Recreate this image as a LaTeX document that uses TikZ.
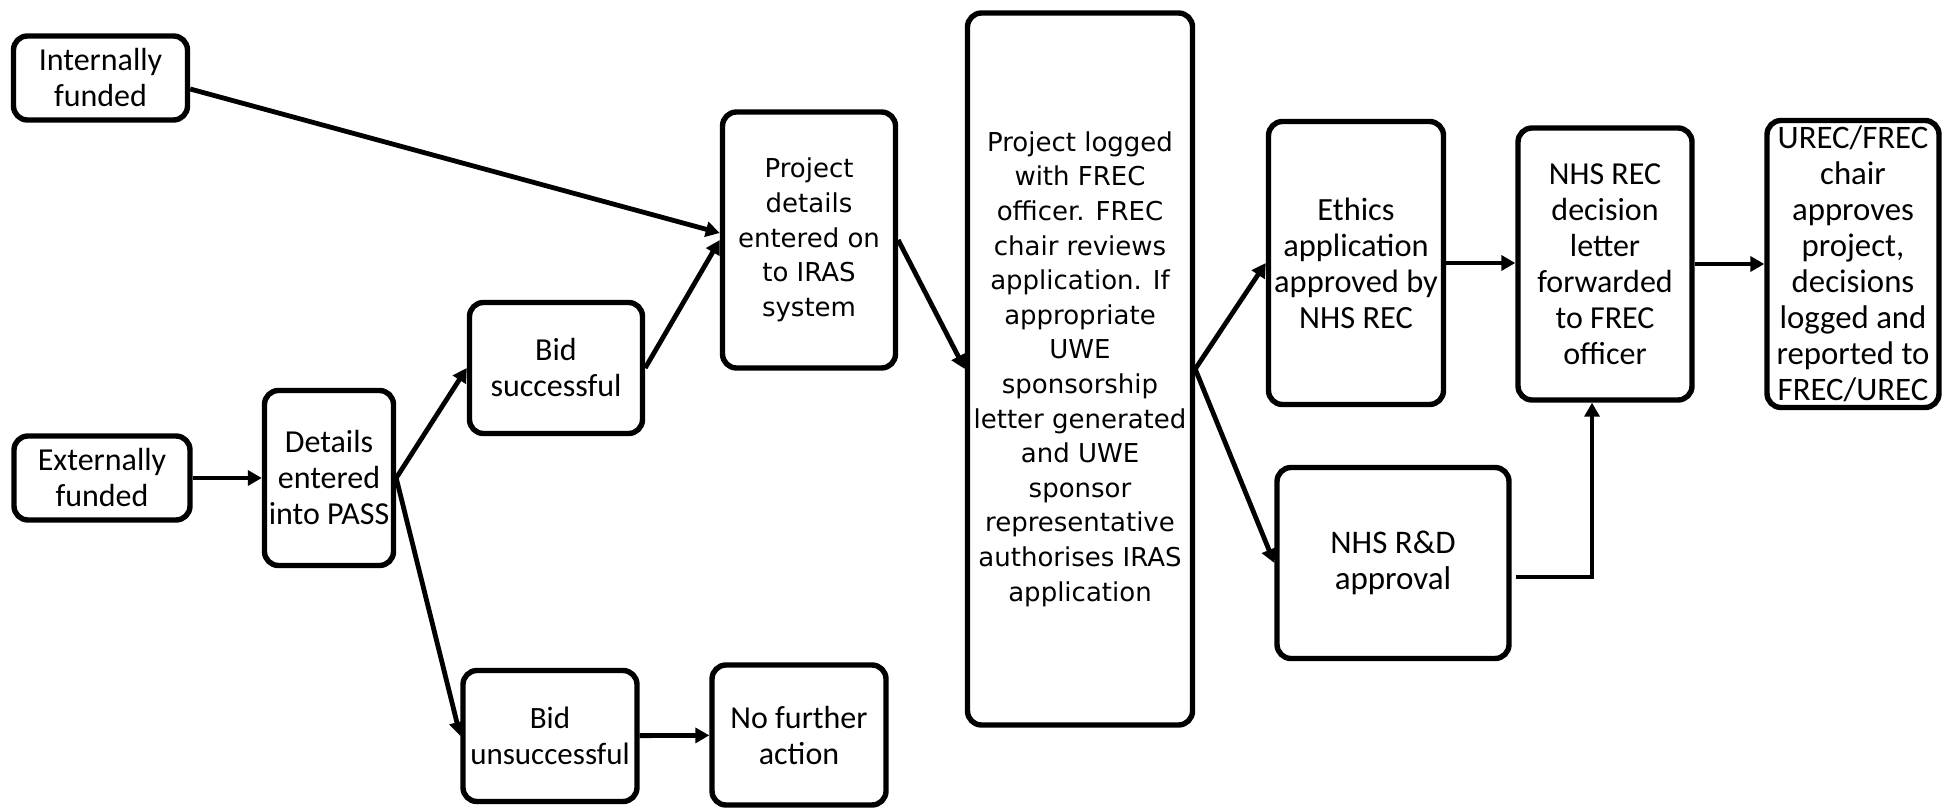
\documentclass[tikz,border=0pt]{standalone}
\usepackage{fontspec}
\setmainfont{Carlito}
\newfontfamily\wideface{DejaVu Sans}
\usetikzlibrary{arrows.meta}

\begin{document}
\begin{tikzpicture}[x=0.5pt,y=0.5pt,
    box/.style={draw, line width=2.7pt, rounded corners=7pt, align=center, inner sep=0pt,
      font=\fontsize{16}{18}\selectfont},
    widebox/.style={box, font=\wideface\fontsize{13}{17.3}\selectfont},
    link/.style={line width=2.4pt, -{Triangle[length=7pt,width=7.5pt]}}]

    \useasboundingbox (0,0) rectangle (1946,810);

    %funding
    \node [box, minimum width=87pt, minimum height=42pt] (intfund) at (100.5,732) {Internally\\funded};
    \node [box, minimum width=88pt, minimum height=42pt] (extfund) at (102,332) {Externally\\funded};
    \node [box, minimum width=64.5pt, minimum height=87.5pt] (pass) at (329,332) {Details\\entered\\into PASS};
    \node [box, minimum width=86.5pt, minimum height=65.5pt] (bidyes) at (556,442) {Bid\\successful};
    \node [box, minimum width=87pt, minimum height=65.5pt, font=\fontsize{15.5}{18}\selectfont] (bidno) at (550,74) {Bid\\unsuccessful};
    \node [box, minimum width=87pt, minimum height=70pt] (nofurther) at (799,75) {No further\\action};

    %IRAS and FREC
    \node [widebox, minimum width=86.5pt, minimum height=128pt] (iras) at (809,570) {Project\\details\\entered on\\to IRAS\\system};
    \node [widebox, minimum width=112.5pt, minimum height=356pt] (frec) at (1080,441) {Project logged\\with FREC\\officer. FREC\\chair reviews\\application. If\\appropriate\\UWE\\sponsorship\\letter generated\\and UWE\\sponsor\\representative\\authorises IRAS\\application};

    %NHS
    \node [box, minimum width=87.5pt, minimum height=141.5pt, font=\fontsize{16.2}{18}\selectfont] (ethics) at (1356,547) {Ethics\\application\\approved by\\NHS REC};
    \node [box, minimum width=116pt, minimum height=95.5pt, font=\fontsize{16.5}{18}\selectfont] (rnd) at (1393,247) {NHS R\&D\\approval};
    \node [box, minimum width=87pt, minimum height=136pt] (nhsrec) at (1605,546) {NHS REC\\decision\\letter\\forwarded\\to FREC\\officer};
    \node [box, minimum width=86pt, minimum height=143.5pt, font=\fontsize{16.4}{18}\selectfont] (urec) at (1853,546) {UREC/FREC\\chair\\approves\\project,\\decisions\\logged and\\reported to\\FREC/UREC};

    %arrows
    \draw [link] ([yshift=-5.5pt]intfund.east) -- ([yshift=3.5pt]iras.west);
    \draw [link] (extfund) -- (pass);
    \draw [link] (pass.east) -- (bidyes.west);
    \draw [link] (pass.east) -- (bidno.west);
    \draw [link] (bidyes.east) -- (iras.west);
    \draw [link] (bidno) -- (nofurther);
    \draw [link] (iras.east) -- (frec.west);
    \draw [link] (frec.east) -- (ethics.west);
    \draw [link] (frec.east) -- (rnd.west);
    \draw [link] (ethics.east) -- (ethics.east -| nhsrec.west);
    \draw [link] (nhsrec.east) -- (nhsrec.east -| urec.west);
    \draw [link] ([xshift=2pt,yshift=-7pt]rnd.east) -| ([xshift=-6.5pt]nhsrec.south);
\end{tikzpicture}
\end{document}
